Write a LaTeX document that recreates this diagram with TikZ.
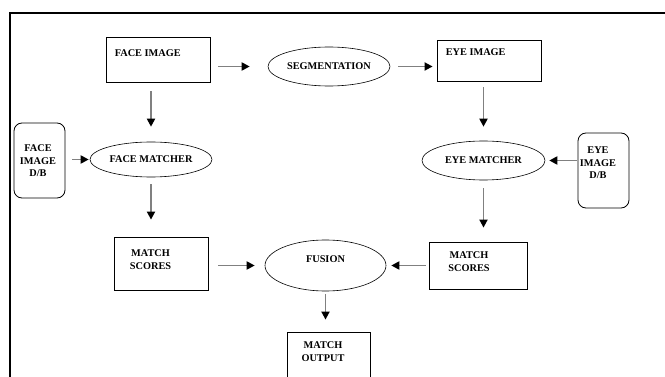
\documentclass[tikz,border=0pt]{standalone}
\usepackage{fontspec}
\setmainfont{Liberation Serif}
\usetikzlibrary{arrows.meta,shapes.geometric}
\newcommand\lblfont{\bfseries\fontsize{10.3}{12.5}\selectfont}

\begin{document}
\begin{tikzpicture}[x=1pt, y=-1pt,
  box/.style={draw, line width=0.8pt, inner sep=0pt},
  dbbox/.style={box, rounded corners=8pt},
  proc/.style={draw, ellipse, line width=0.6pt, inner sep=0pt, font=\lblfont},
  txt/.style={inner sep=0pt, align=center, font=\lblfont},
  flow/.style={draw=gray, line width=1.8pt, -{Triangle[length=8pt, width=8pt, color=black, fill=black]}}]
\useasboundingbox (0,0) rectangle (665,377);
\clip (0,0) rectangle (665,377);
\draw[line width=2.3pt] (10,13) rectangle (700,420);

% top row
\node[box, minimum width=104pt, minimum height=45pt,
  label={[txt, anchor=north west, xshift=9pt, yshift=-13pt]north west:FACE IMAGE}] (faceimg) at (158,59.5) {};
\node[proc, minimum width=122pt, minimum height=39pt] (seg) at (329,66.5) {SEGMENTATION};
\node[box, minimum width=104pt, minimum height=41pt,
  label={[txt, anchor=north west, xshift=9pt, yshift=-9pt]north west:EYE IMAGE}] (eyeimg) at (489,60.5) {};

% matchers and databases
\node[dbbox, minimum width=51pt, minimum height=75pt,
  label={[txt, anchor=north, xshift=-1.5pt, yshift=-22pt]north:FACE\\IMAGE\\D/B}] (facedb) at (39.5,160.5) {};
\node[proc, minimum width=122pt, minimum height=35pt] (facematch) at (151,159.5) {FACE MATCHER};
\node[proc, minimum width=123pt, minimum height=39pt] (eyematch) at (483.5,160.5) {EYE MATCHER};
\node[dbbox, minimum width=51pt, minimum height=75pt,
  label={[txt, anchor=north, xshift=-5.5pt, yshift=-14pt]north:EYE\\IMAGE\\D/B}] (eyedb) at (603.5,170.5) {};

% scores and fusion
\node[box, minimum width=94pt, minimum height=53pt,
  label={[txt, anchor=north, xshift=-10.5pt, yshift=-13pt]north:MATCH\\SCORES}] (scoresL) at (161,263.5) {};
\node[proc, minimum width=121pt, minimum height=51pt, text height=7pt, text depth=14pt] (fusion) at (325.5,265.5) {FUSION};
\node[box, minimum width=98pt, minimum height=47pt,
  label={[txt, anchor=north, xshift=-9pt, yshift=-10pt]north:MATCH\\SCORES}] (scoresR) at (478,265.5) {};
\node[box, minimum width=83pt, minimum height=60pt,
  label={[txt, anchor=north, xshift=-5.5pt, yshift=-10pt]north:MATCH\\OUTPUT}] (output) at (328.5,362) {};

% arrows
\draw[flow, shorten <=8pt, shorten >=18pt] (faceimg.east |- seg.west) -- (seg.west);
\draw[flow, shorten <=8pt, shorten >=4pt] (seg.east) -- (eyeimg.west |- seg.east);
\draw[flow, shorten <=9pt, shorten >=15pt] (facematch.north |- faceimg.south) -- (facematch.north);
\draw[flow, shorten <=6pt, shorten >=14pt] (eyematch.north |- eyeimg.south) -- (eyematch.north);
\draw[flow, shorten <=7pt, shorten >=1pt] (facedb.east |- facematch.west) -- (facematch.west);
\draw[flow, shorten <=1pt, shorten >=4pt] (eyedb.west |- eyematch.east) -- (eyematch.east);
\draw[flow, shorten <=7pt, shorten >=17pt] (facematch.south) -- (facematch.south |- scoresL.north);
\draw[flow, shorten <=8pt, shorten >=14pt] (eyematch.south) -- (eyematch.south |- scoresR.north);
\draw[flow, shorten <=10pt, shorten >=10pt] (scoresL.east |- fusion.west) -- (fusion.west);
\draw[flow, shorten <=3pt, shorten >=5pt] (scoresR.west |- fusion.east) -- (fusion.east);
\draw[flow, shorten <=3pt, shorten >=12pt] (fusion.south) -- (fusion.south |- output.north);
\end{tikzpicture}
\end{document}
